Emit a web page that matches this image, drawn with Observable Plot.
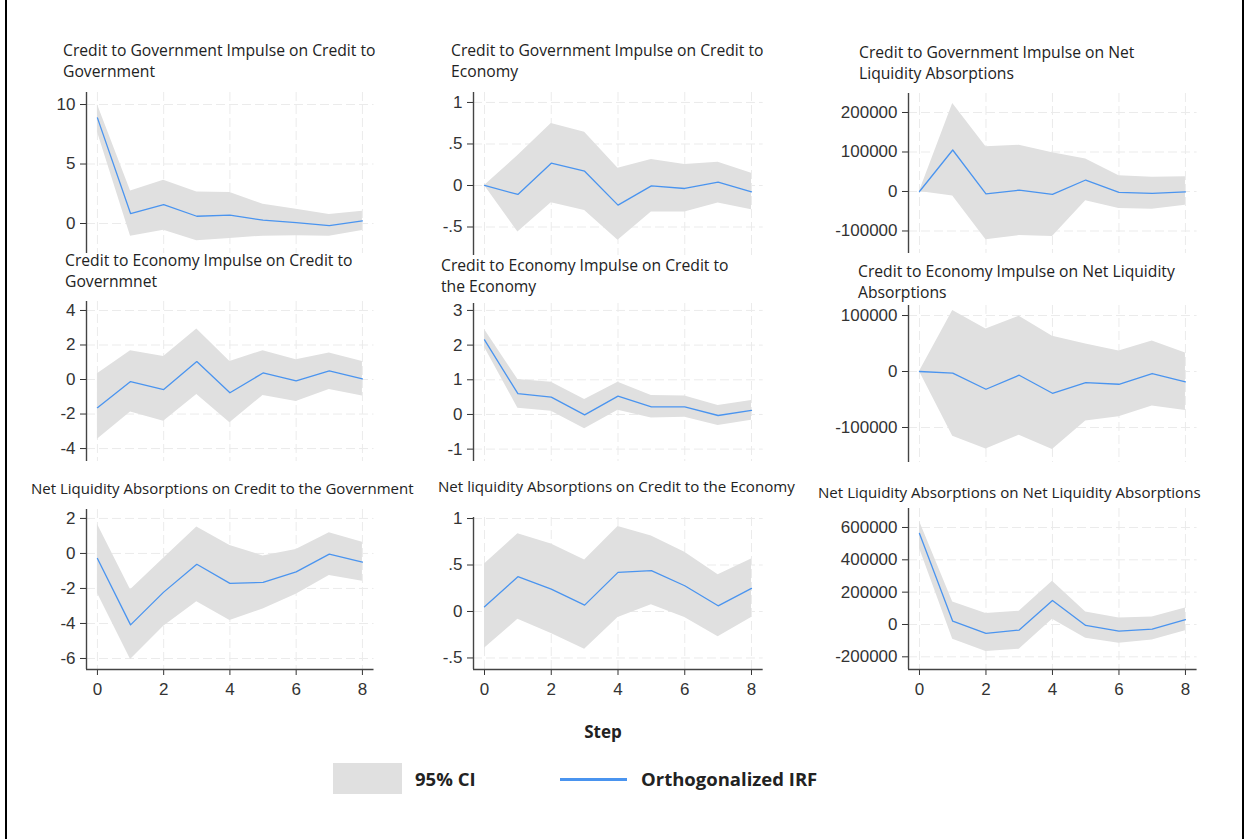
<!DOCTYPE html>
<html><head><meta charset="utf-8">
<script src="https://cdn.jsdelivr.net/npm/d3@7"></script>
<script src="https://cdn.jsdelivr.net/npm/@observablehq/plot@0.6"></script>
<style>
html,body{margin:0;padding:0;background:#fff;}
#root{position:relative;width:1244px;height:839px;overflow:hidden;background:#fff;}
.title{position:absolute;font-family:"Open Sans",sans-serif;line-height:21.5px;color:#222;white-space:pre;z-index:2;}
.panel{position:absolute;z-index:1;}
.lbl{position:absolute;font-family:"Open Sans",sans-serif;font-weight:700;font-size:17px;color:#222;white-space:pre;z-index:2;}
</style></head><body><div id="root"></div><script>
// ---------- data ----------
const steps = [0,1,2,3,4,5,6,7,8];
const titles = [
 "Credit to Government Impulse on Credit to\nGovernment",
 "Credit to Government Impulse on Credit to\nEconomy",
 "Credit to Government Impulse on Net\nLiquidity Absorptions",
 "Credit to Economy Impulse on Credit to\nGovernmnet",
 "Credit to Economy Impulse on Credit to\nthe Economy",
 "Credit to Economy Impulse on Net Liquidity\nAbsorptions",
 "Net Liquidity Absorptions on Credit to the Government",
 "Net liquidity Absorptions on Credit to the Economy",
 "Net Liquidity Absorptions on Net Liquidity Absorptions"
];
const irf = [
 [8.88, 0.84, 1.59, 0.61, 0.70, 0.28, 0.08, -0.17, 0.22],
 [0, -0.108, 0.268, 0.172, -0.236, -0.004, -0.036, 0.04, -0.076],
 [0, 105000, -5800, 3300, -7500, 29000, -2500, -5000, -800],
 [-1.63, -0.12, -0.58, 1.04, -0.77, 0.38, -0.08, 0.5, 0.04],
 [2.15, 0.6, 0.5, -0.01, 0.53, 0.22, 0.22, -0.03, 0.115],
 [0, -3000, -31700, -6600, -38900, -19800, -22800, -3600, -18600],
 [-0.29, -4.08, -2.21, -0.62, -1.71, -1.65, -1.05, -0.04, -0.49],
 [0.05, 0.374, 0.241, 0.068, 0.421, 0.439, 0.277, 0.061, 0.248],
 [563000, 20400, -55100, -34700, 149000, -6100, -40800, -28600, 30600]
];
const ciLower = [
 [7.7, -1.06, -0.56, -1.45, -1.26, -1.06, -1.03, -1.06, -0.59],
 [0, -0.56, -0.208, -0.3, -0.66, -0.32, -0.32, -0.212, -0.292],
 [0, -11700, -122500, -111700, -114000, -23300, -43300, -45000, -35000],
 [-3.46, -1.88, -2.42, -0.87, -2.5, -0.92, -1.27, -0.58, -0.96],
 [1.94, 0.18, 0.09, -0.41, 0.12, -0.1, -0.08, -0.32, -0.17],
 [0, -115600, -138300, -113800, -139500, -88600, -80800, -61700, -69500],
 [-2.27, -6.06, -4.16, -2.76, -3.83, -3.18, -2.33, -1.26, -1.59],
 [-0.396, -0.083, -0.237, -0.406, -0.065, 0.072, -0.065, -0.273, -0.065],
 [471000, -91800, -167300, -153000, 32600, -85700, -116300, -95900, -38800]
];
const ciUpper = [
 [10.0, 2.74, 3.63, 2.65, 2.6, 1.62, 1.2, 0.75, 1.03],
 [0, 0.36, 0.748, 0.64, 0.208, 0.312, 0.252, 0.28, 0.148],
 [0, 223000, 113000, 117000, 98000, 82000, 40000, 36000, 37500],
 [0.33, 1.67, 1.33, 2.92, 1.04, 1.67, 1.15, 1.54, 1.04],
 [2.45, 1.01, 0.93, 0.43, 0.93, 0.55, 0.53, 0.26, 0.4],
 [0, 109000, 76000, 98800, 62900, 49100, 36500, 54500, 32900],
 [1.67, -2.08, -0.27, 1.51, 0.45, -0.14, 0.23, 1.18, 0.64],
 [0.51, 0.835, 0.727, 0.554, 0.914, 0.813, 0.637, 0.396, 0.565],
 [639000, 138800, 67300, 81600, 267300, 77600, 40800, 46900, 102000]
];
const yTicks = [
 [0, 5, 10],
 [-0.5, 0, 0.5, 1],
 [-100000, 0, 100000, 200000],
 [-4, -2, 0, 2, 4],
 [-1, 0, 1, 2, 3],
 [-100000, 0, 100000],
 [-6, -4, -2, 0, 2],
 [-0.5, 0, 0.5, 1],
 [-200000, 0, 200000, 400000, 600000]
];
const xTicks = [0, 2, 4, 6, 8];
const xAxisTitle = "Step";
const legendLabels = ["95% CI", "Orthogonalized IRF"];

// ---------- layout ----------
const colLeft = [86, 473, 908];
const colWidth = [287.5, 289.7, 288.6];
const panelFrame = [[92,253],[92,255],[93,253],[301,461],[303,461],[305,462],[509,669],[517,669],[508,669]];
const yDomain = [[-2.52,11.01],[-0.843,1.12],[-157000,248100],[-4.75,4.52],[-1.356,3.20],[-162500,117900],[-6.63,2.51],[-0.624,1.011],[-278300,717400]];
const xDomain = [-0.33, 8.35];
const titlePos = [[63,51],[451,51],[859,53],[65,261],[441,266],[858,272],[31,489],[438,487],[818,493]];
const titleSize = [15.7,15.7,15.7,15.7,15.7,15.7,15,15.1,15.1];
const ciColor = "#e0e0e0", lineColor = "#4a94ef", gridColor = "#ebebeb", axisColor = "#444";

const fmt = d => String(d).replace(/^(-?)0\./, "$1.");
const root = document.getElementById("root");

for (let i = 0; i < 9; i++) {
  const r = Math.floor(i / 3), c = i % 3;
  const data = steps.map((s, k) => ({step: s, irf: irf[i][k], lo: ciLower[i][k], hi: ciUpper[i][k]}));
  const [T, B] = panelFrame[i];
  const mL = 95, mR = 6, mT = 4, mB = r === 2 ? 34 : 4;
  const W = colWidth[c], H = B - T;
  const marks = [
    Plot.ruleY(yTicks[i], {stroke: gridColor, strokeDasharray: "9,4", strokeWidth: 1}),
    Plot.ruleX(xTicks, {stroke: gridColor, strokeDasharray: "9,4", strokeWidth: 1}),
    Plot.areaY(data, {x: "step", y1: "lo", y2: "hi", fill: ciColor}),
    Plot.lineY(data, {x: "step", y: "irf", stroke: lineColor, strokeWidth: 1.3}),
    Plot.ruleX([xDomain[0]], {stroke: axisColor, strokeWidth: 1.4})
  ];
  if (r === 2) marks.push(Plot.ruleY([yDomain[i][0]], {stroke: axisColor, strokeWidth: 1.4}));
  const svg = Plot.plot({
    width: mL + W + mR,
    height: H + mT + mB,
    marginLeft: mL, marginRight: mR, marginTop: mT, marginBottom: mB,
    x: r === 2
      ? {domain: xDomain, ticks: xTicks, tickFormat: fmt, tickSize: 6, tickPadding: 7, label: null}
      : {domain: xDomain, axis: null},
    y: {domain: yDomain[i], ticks: yTicks[i], tickFormat: fmt, tickSize: 6, tickPadding: 5, label: null},
    style: {fontFamily: "'Liberation Sans', Arial, sans-serif", fontSize: "17px", color: "#333", background: "transparent", overflow: "visible"},
    marks
  });
  const wrap = document.createElement("div");
  wrap.className = "panel";
  wrap.style.left = (colLeft[c] - mL) + "px";
  wrap.style.top = (T - mT) + "px";
  wrap.appendChild(svg);
  root.appendChild(wrap);

  const t = document.createElement("div");
  t.className = "title";
  t.textContent = titles[i];
  t.style.fontSize = titleSize[i] + "px";
  t.style.left = titlePos[i][0] + "px";
  t.style.top = (titlePos[i][1] - 11.5) + "px";
  root.appendChild(t);
}

// x axis title
const st = document.createElement("div");
st.className = "lbl";
st.textContent = xAxisTitle;
st.style.left = "603px"; st.style.top = "731px"; st.style.transform = "translate(-50%,-50%)";
root.appendChild(st);

// legend
function box(l, t, w, h, bg) {
  const d = document.createElement("div");
  Object.assign(d.style, {position: "absolute", left: l + "px", top: t + "px", width: w + "px", height: h + "px", background: bg});
  root.appendChild(d);
}
box(333, 763, 69, 31, ciColor);
box(560, 777.5, 67, 3, lineColor);
[[415, legendLabels[0]], [641, legendLabels[1]]].forEach(([x, s]) => {
  const d = document.createElement("div");
  d.className = "lbl"; d.textContent = s;
  d.style.fontSize = "18.5px";
  d.style.left = x + "px"; d.style.top = "778px"; d.style.transform = "translateY(-50%)";
  root.appendChild(d);
});
// outer border lines
box(5, 0, 2, 839, "#000");
box(1242, 0, 2, 839, "#000");
</script></body></html>
